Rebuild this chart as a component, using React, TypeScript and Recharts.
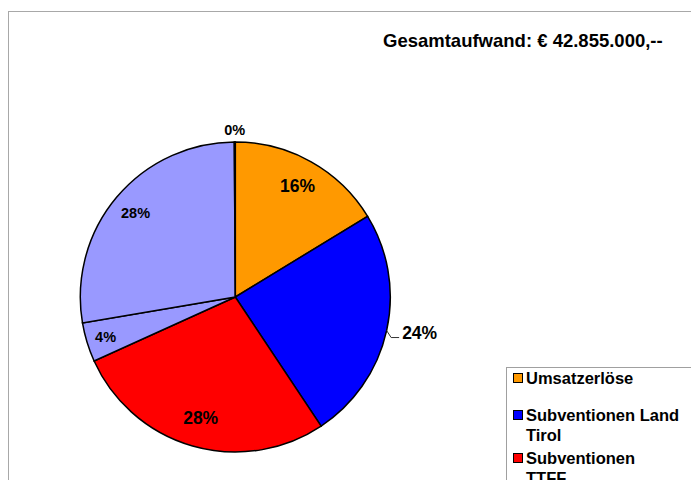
import { Legend, Pie, PieChart } from 'recharts'

const categories = [
  'Umsatzerlöse',
  'Subventionen Land Tirol',
  'Subventionen TTFF',
  'Subventionen Bund',
  'Eigenmittel',
  'Sonstiges',
]
// legend text as Excel wrapped it
const legendText = [
  'Umsatzerlöse',
  'Subventionen Land\nTirol',
  'Subventionen\nTTFF',
  'Subventionen\nBund',
  'Eigenmittel',
  'Sonstiges',
]
const shares = [16.3, 24.4, 27.6, 4.1, 27.6, 0.1]
const colors = ['#FF9900', '#0000FF', '#FF0000', '#9999FF', '#9999FF', '#FFFFCC']
const title = 'Gesamtaufwand: € 42.855.000,--'

const font = '"Liberation Sans", Arial, Helvetica, sans-serif'
const RAD = Math.PI / 180
// per-slice label look (Excel auto-sized them differently)
const labelSizes = [17.5, 17.5, 17.5, 14.5, 14.5, 14.5]
const labelRadius = [0.82, 0, 0.81, 0.875, 0.84, 1.08]
const itemHeights = [37, 43, 43, 43, 43, 43]

const data = categories.map((name, i) => ({ name, value: shares[i], fill: colors[i] }))

function renderLabel(p: any) {
  const { cx, cy, midAngle, outerRadius, percent, index } = p
  const text = `${Math.round(percent * 100)}%`
  const cos = Math.cos(-midAngle * RAD)
  const sin = Math.sin(-midAngle * RAD)
  const style = { fontFamily: font, fontWeight: 700, fontSize: labelSizes[index], fill: '#000' }
  if (index === 1) {
    const x0 = cx + outerRadius * cos
    const y0 = cy + outerRadius * sin
    const x1 = x0 + 4.5
    const y1 = y0 + 7
    const x2 = x1 + 8
    return (
      <g>
        <polyline points={`${x0},${y0} ${x1},${y1} ${x2},${y1}`} fill="none" stroke="#333" strokeWidth={1} />
        <text x={x2 + 3} y={y1 - 5} textAnchor="start" dominantBaseline="central" style={style}>{text}</text>
      </g>
    )
  }
  const r = outerRadius * labelRadius[index]
  return (
    <text x={cx + r * cos} y={cy + r * sin} textAnchor="middle" dominantBaseline="central" style={style}>
      {text}
    </text>
  )
}

function LegendBox() {
  return (
    <div style={{
      border: '1px solid #a0a0a0', width: 220, height: 200, boxSizing: 'border-box', background: '#fff',
      padding: '0 0 0 6px', fontFamily: font, fontWeight: 700, fontSize: 16.5, lineHeight: '20px', color: '#000',
    }}>
      {legendText.map((c, i) => (
        <div key={c} style={{ display: 'flex', alignItems: 'flex-start', height: itemHeights[i] }}>
          <span style={{
            width: 8, height: 8, border: '1px solid #000', background: colors[i],
            marginTop: 5, marginRight: 3, flex: 'none',
          }} />
          <span style={{ whiteSpace: 'pre-line' }}>{c}</span>
        </div>
      ))}
    </div>
  )
}

export default function App() {
  return (
    <div style={{ position: 'absolute', left: 0, top: 0, width: 691, height: 480, overflow: 'hidden', background: '#fff' }}>
      <div style={{ position: 'absolute', left: 8, top: 11, width: 720, height: 520, border: '1px solid #a8a8a8' }}>
        <PieChart width={683} height={469} margin={{ top: 0, right: 0, bottom: 0, left: 0 }}>
          <Pie
            data={data} dataKey="value" nameKey="name"
            cx={226.3} cy={285} outerRadius={155}
            startAngle={90} endAngle={-270}
            stroke="#000" strokeWidth={1.5}
            label={renderLabel} labelLine={false}
            isAnimationActive={false}
          />
          <Legend content={LegendBox} wrapperStyle={{ position: 'absolute', left: 497, top: 355, width: 220, height: 200 }} />
        </PieChart>
        <div style={{
          position: 'absolute', left: 374, top: 19, whiteSpace: 'nowrap',
          fontFamily: font, fontWeight: 700, fontSize: 18.5, lineHeight: '20px', color: '#000',
        }}>
          {title}
        </div>
      </div>
    </div>
  )
}
